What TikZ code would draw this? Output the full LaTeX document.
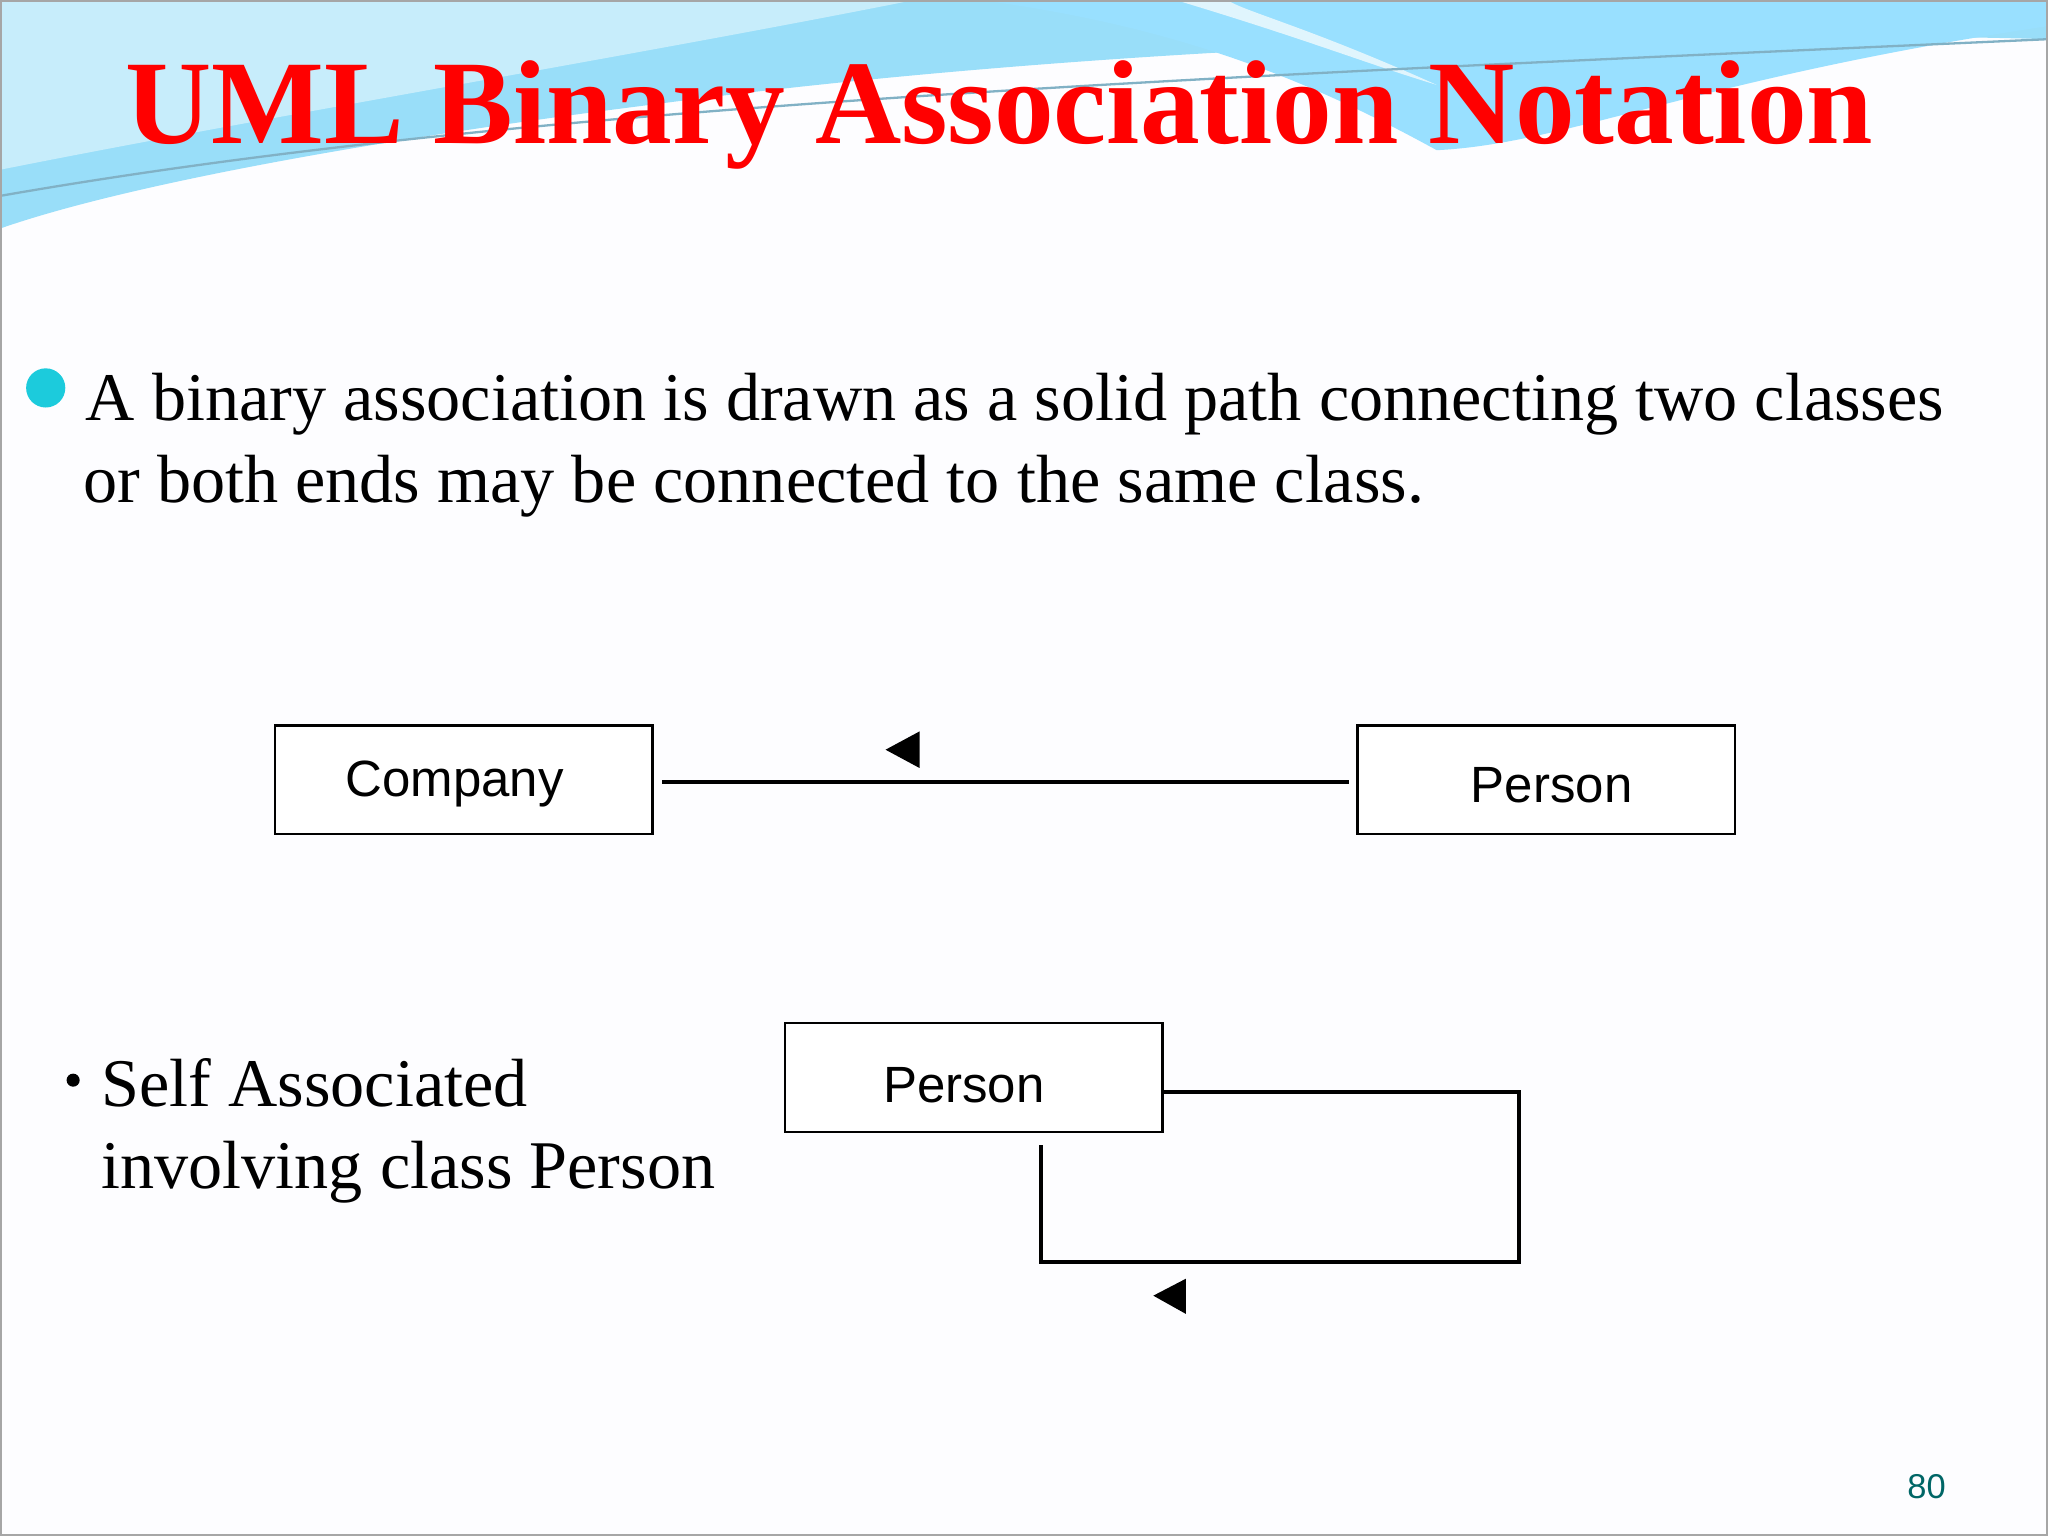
\documentclass[tikz,border=0pt]{standalone}
\usepackage{fontspec}
\setmainfont{Liberation Serif}
\newfontfamily\arialf{Liberation Sans}
\definecolor{bulletcyan}{HTML}{1CCBDC}
\begin{document}
\begin{tikzpicture}[x=0.01cm,y=-0.01cm,
  cls/.style={draw=black,line width=0.5pt,fill=white,minimum width=2.89cm,minimum height=0.83cm,inner sep=0pt},
  lbl/.style={font=\arialf\fontsize{11.1}{13}\selectfont,inner sep=0pt},
  assoc/.style={line width=0.85pt,black},
  tri/.style={fill=black}]
\fill[white!95!gray!60!blue!2] (0,0) rectangle (1568,1176);
\useasboundingbox (0,0) rectangle (1568,1176);
% header waves
\fill[cyan!40] (0,0) -- (1568,0) -- (1568,30) .. controls (1200,20) and (800,40) .. (500,80) .. controls (300,105) and (100,140) .. (0,175) -- cycle;
\fill[cyan!22] (0,0) -- (700,0) .. controls (500,40) and (200,90) .. (0,130) -- cycle;
\fill[blue!30!cyan!40] (750,0) -- (1568,0) -- (1568,20) .. controls (1300,60) and (1200,110) .. (1100,115) .. controls (1000,60) and (900,20) .. (750,0) -- cycle;
\fill[white!60!cyan!30] (900,0) .. controls (1000,30) and (1050,50) .. (1100,65) .. controls (1000,20) and (950,8) .. (940,0) -- cycle;
\draw[cyan!60!black!60,line width=0.5pt] (0,150) .. controls (400,80) and (900,60) .. (1568,30);
\draw[gray!70,line width=0.6pt] (0.5,0.5) rectangle (1567.5,1175.5);
% title
\node[text=red,font=\fontsize{26}{30}\selectfont\bfseries] (title) at (765,88) {UML Binary Association Notation};
% bullet text
\fill[bulletcyan] (35,297) circle (15);
\node[anchor=base west,inner sep=0pt,font=\fontsize{14.85}{17.7}\selectfont] (t1) at (65,322) {A binary association is drawn as a solid path connecting two classes};
\node[anchor=base west,inner sep=0pt,font=\fontsize{14.85}{17.7}\selectfont] (t2) at (63,385) {or both ends may be connected to the same class.};
% diagram 1
\node[cls] (comp) at (355,597) {};
\node[lbl] at (348,600) {Company};
\node[cls] (pers) at (1184,597) {};
\node[lbl] at (1188,601) {Person};
\coordinate (la) at (507,599);
\coordinate (lb) at (1033,599);
\draw[assoc] (la) -- (lb);
\fill[tri] (678,574) -- (704,560) -- (704,588) -- cycle;
% self association
\fill (56,827) circle (5);
\node[anchor=base west,inner sep=0pt,font=\fontsize{14.85}{17.7}\selectfont] (s1) at (77,847) {Self Associated};
\node[anchor=base west,inner sep=0pt,font=\fontsize{14.85}{17.7}\selectfont] (s2) at (77,910) {involving class Person};
\node[cls] (p2) at (745.5,825) {};
\node[lbl] at (738,831) {Person};
\coordinate (c1) at (1163,836);
\coordinate (c2) at (1163,966);
\coordinate (c3) at (797,966);
\coordinate (c4) at (797,877);
\draw[assoc] (p2.east |- c1) -- (c1) -- (c2) -- (c3) -- (c4);
\fill[tri] (883,992) -- (908,979) -- (908,1006) -- cycle;
% page number
\node[text=teal!80!black,font=\arialf\fontsize{7.5}{9}\selectfont] (pg) at (1475,1138) {80};
\end{tikzpicture}
\end{document}
